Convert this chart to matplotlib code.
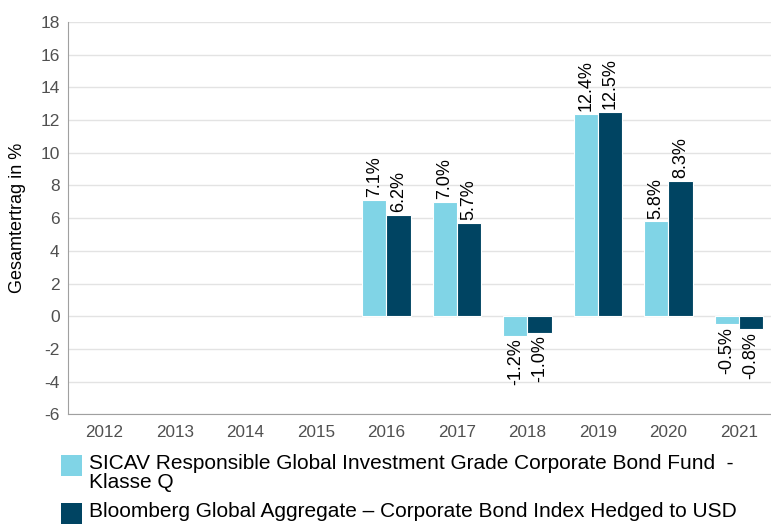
import numpy as np
import matplotlib
matplotlib.use("Agg")
import matplotlib.pyplot as plt
from matplotlib.patches import Rectangle

years = ["2012", "2013", "2014", "2015", "2016", "2017", "2018", "2019", "2020", "2021"]
fund = [np.nan, np.nan, np.nan, np.nan, 7.1, 7.0, -1.2, 12.4, 5.8, -0.5]
index = [np.nan, np.nan, np.nan, np.nan, 6.2, 5.7, -1.0, 12.5, 8.3, -0.8]
fund_name = "SICAV Responsible Global Investment Grade Corporate Bond Fund  -\nKlasse Q"
index_name = "Bloomberg Global Aggregate – Corporate Bond Index Hedged to USD"

light = "#80d4e6"
dark = "#004462"

plt.rcParams["font.family"] = ["Liberation Sans", "DejaVu Sans"]
plt.rcParams["axes.unicode_minus"] = False

fig = plt.figure(figsize=(7.71, 5.25), dpi=100)
ax = fig.add_axes([0.088, 0.211, 0.918, 0.747])

x = np.arange(len(years))
w = 0.345
b1 = ax.bar(x - w / 2, fund, w, color=light, edgecolor="white", linewidth=0.8, zorder=3)
b2 = ax.bar(x + w / 2, index, w, color=dark, edgecolor="white", linewidth=0.8, zorder=3)

# rotated value labels above / below each bar
for bars, vals in ((b1, fund), (b2, index)):
    for rect, v in zip(bars, vals):
        if np.isnan(v):
            continue
        cx = rect.get_x() + rect.get_width() / 2
        off = 2 if v >= 0 else -2
        ax.annotate(f"{v:.1f}%", (cx, v), xytext=(0, off), textcoords="offset points",
                    rotation=90, ha="center", va="bottom" if v >= 0 else "top", fontsize=13)

ax.set_ylim(-6, 18)
ax.set_yticks(range(-6, 19, 2))
ax.set_xlim(-0.52, len(years) - 0.48)
ax.set_xticks(x)
ax.set_xticklabels(years, fontsize=12.3)
ax.tick_params(axis="y", labelsize=12.5, length=0, pad=6, labelcolor="#505050")
ax.tick_params(axis="x", length=0, pad=8, labelcolor="#505050")
ax.grid(axis="y", color="#e3e3e3", linewidth=1, zorder=0)
for s in ("top", "right"):
    ax.spines[s].set_visible(False)
for s in ("left", "bottom"):
    ax.spines[s].set_color("#a0a0a0")
ax.set_ylabel("Gesamtertrag in %", fontsize=13, labelpad=10)

# legend drawn by hand so the swatch sits next to the first text line
H = 525.0
W = 771.0
for top, col, txt in ((455, light, fund_name), (503, dark, index_name)):
    fig.patches.append(Rectangle((61 / W, 1 - (top + 21) / H), 21 / W, 21 / H,
                                 transform=fig.transFigure, facecolor=col, edgecolor="none"))
    fig.text(89 / W, 1 - (top - 1) / H, txt, ha="left", va="top", fontsize=15,
             linespacing=1.0)

fig.savefig("out.png", dpi=100)
